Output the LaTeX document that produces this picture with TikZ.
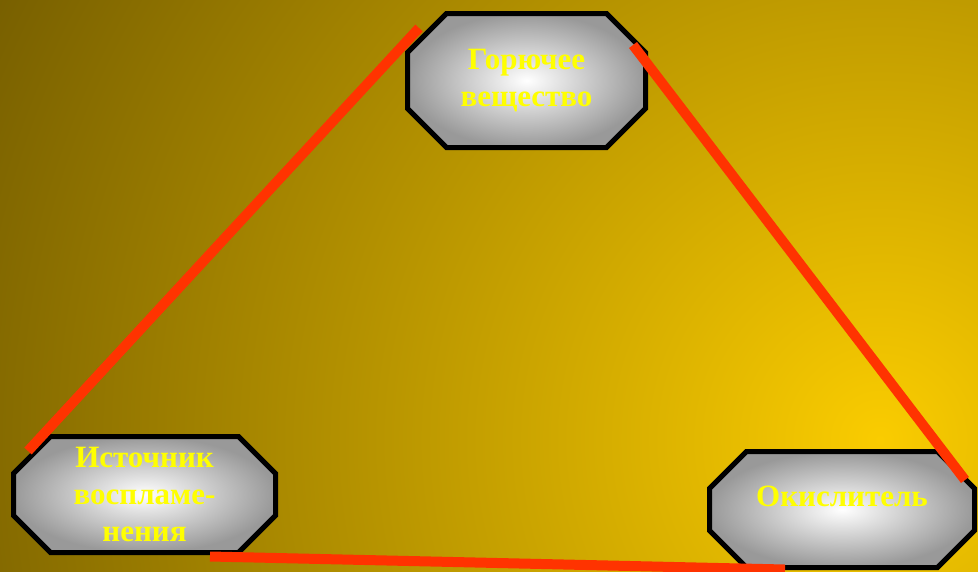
\documentclass[tikz,border=0pt]{standalone}
\usepackage{fontspec}
\setmainfont{Liberation Serif}
\usetikzlibrary{backgrounds}

\definecolor{glowin}{RGB}{250,204,0}
\definecolor{glowout}{RGB}{118,94,0}
\definecolor{flame}{RGB}{255,51,0}
\definecolor{labelyellow}{RGB}{255,255,0}
\pgfdeclareradialshading{bgglow}{\pgfpointorigin}{color(0bp)=(glowin); color(25bp)=(glowout); color(50bp)=(glowout)}

% octagon round a named node, #2 = chamfer
\newcommand{\octagon}[2]{%
    \shade[octfill] ([xshift=#2]#1.north west) -- ([xshift=-#2]#1.north east)
        -- ([yshift=-#2]#1.north east) -- ([yshift=#2]#1.south east)
        -- ([xshift=-#2]#1.south east) -- ([xshift=#2]#1.south west)
        -- ([yshift=#2]#1.south west) -- ([yshift=-#2]#1.north west) -- cycle;}

\begin{document}
\begin{tikzpicture}[x=1pt, y=-1pt,
    octbox/.style={rectangle, inner sep=0pt, outer sep=0pt, minimum height=116pt,
        align=center, text=labelyellow, font=\bfseries\fontsize{31}{37}\selectfont},
    octfill/.style={draw=black, line width=5pt, inner color=white, outer color=gray!80},
    redline/.style={draw=flame, line width=10pt}]
    \useasboundingbox (0,0) rectangle (978,571);
    \clip (0,0) rectangle (978,571);

    % the three boxes
    \node[octbox, minimum width=238pt, minimum height=134pt] (fuel) at (526.5,80.5) {Горючее\\вещество};
    \node[octbox, minimum width=262pt] (ignition) at (144.5,494.5) {Источник\\воспламе-\\нения};
    \node[octbox, minimum width=265pt, text depth=26pt] (oxidizer) at (842,509.5) {Окислитель};

    \begin{pgfonlayer}{background}
        % draw background glow
        \shade[shading=bgglow] (880,440) circle (1000);
        % draw octagons
        \octagon{fuel}{39pt}
        \octagon{ignition}{37pt}
        \octagon{oxidizer}{37pt}
    \end{pgfonlayer}

    % draw triangle sides
    \coordinate (fuelW) at (419,28);
    \coordinate (ignitionN) at (28,451);
    \coordinate (fuelE) at (633,45);
    \coordinate (oxidizerN) at (965,480);
    \coordinate (ignitionS) at (210,556.5);
    \coordinate (oxidizerS) at (785,569.5);
    \draw[redline] (fuelW) -- (ignitionN);
    \draw[redline] (fuelE) -- (oxidizerN);
    \draw[redline] (ignitionS) -- (oxidizerS);
\end{tikzpicture}
\end{document}
